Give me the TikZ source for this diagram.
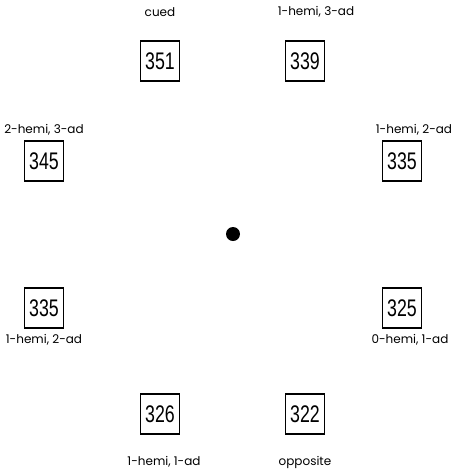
\documentclass[tikz,border=0pt]{standalone}
\usepackage{fontspec}
\setmainfont{Poppins}
\newfontfamily\numfont{Liberation Sans}
\begin{document}
\begin{tikzpicture}[x=1pt,y=-1pt,
  numbox/.style={draw,line width=1.2pt,minimum width=39pt,minimum height=40pt,inner sep=0pt,
    font=\numfont\fontsize{24}{24}\selectfont},
  lab/.style={font=\fontsize{12}{12}\selectfont,inner sep=0pt}]
\useasboundingbox (0,0) rectangle (460,475);
\newcommand\nb[1]{\scalebox{0.74}[1]{#1}}
\node[numbox] (b351) at (160,61) {\nb{351}};
\node[numbox] (b339) at (305,61) {\nb{339}};
\node[numbox] (b345) at (44,161) {\nb{345}};
\node[numbox] (b335r) at (402,161) {\nb{335}};
\node[numbox] (b335l) at (44,308) {\nb{335}};
\node[numbox] (b325) at (402,308) {\nb{325}};
\node[numbox] (b326) at (160,414) {\nb{326}};
\node[numbox] (b322) at (305,414) {\nb{322}};
\node[lab] (l351) at (160,12) {cued};
\node[lab] (l339) at (316,12) {1-hemi, 3-ad};
\node[lab] (l345) at (44,130) {2-hemi, 3-ad};
\node[lab] (l335r) at (414,130) {1-hemi, 2-ad};
\node[lab] (l335l) at (44,340) {1-hemi, 2-ad};
\node[lab] (l325) at (410,340) {0-hemi, 1-ad};
\node[lab] (l326) at (164,462) {1-hemi, 1-ad};
\node[lab] (l322) at (305,462) {opposite};
\fill (233,234) circle (7);
\end{tikzpicture}
\end{document}
